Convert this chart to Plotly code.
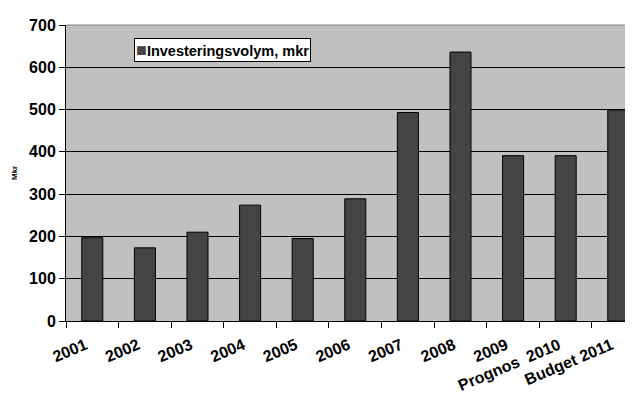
import plotly.graph_objects as go

categories = ["2001", "2002", "2003", "2004", "2005", "2006", "2007", "2008", "2009", "Prognos  2010", "Budget 2011"]
values = [197, 173, 210, 274, 195, 289, 493, 636, 391, 391, 499]
series_name = "Investeringsvolym, mkr"
y_ticks = [0, 100, 200, 300, 400, 500, 600, 700]

FONT = "Liberation Sans, Arial, sans-serif"

# page body has an 8px default margin; size the figure to fit the window without scrollbars
OFF = 8
W, H = 633 - OFF, 403 - 2 * OFF
PL, PT, PR, PB = 66, 25, 633, 321  # plot area in window pixels

fig = go.Figure()
fig.add_trace(go.Bar(
    x=categories, y=values, name=series_name,
    marker=dict(color="#444444", line=dict(color="#000000", width=1)),
    showlegend=False,
))

fig.update_layout(
    width=W, height=H,
    margin=dict(l=PL - OFF, r=W - (PR - OFF), t=PT - OFF, b=H - (PB - OFF)),
    paper_bgcolor="white",
    plot_bgcolor="#C0C0C0",
    bargap=0.6,
    font=dict(family=FONT, color="black"),
    xaxis=dict(
        type="category",
        range=[-0.5, 10.28],
        tickangle=-23,
        ticks="outside", tickson="boundaries", ticklen=6, tickcolor="black",
        showline=True, linecolor="black", linewidth=1,
        showgrid=False,
        tickfont=dict(size=16, weight="bold"),
        ticklabelstandoff=8,
        ticklabelshift=-7,
        automargin=False,
    ),
    yaxis=dict(
        range=[0, 700],
        tickvals=y_ticks,
        ticks="outside", ticklen=6, tickcolor="black",
        showline=True, linecolor="black", linewidth=1,
        showgrid=True, gridcolor="black", gridwidth=1,
        zeroline=False,
        tickfont=dict(size=16, weight="bold"),
        automargin=False,
    ),
)
fig.add_shape(type="line", xref="paper", yref="paper", x0=0, x1=1, y0=1, y1=1,
              line=dict(color="#808080", width=1))

pw, ph = PR - PL, PB - PT
# legend box
fig.add_annotation(
    xref="paper", yref="paper", x=(134 - PL) / pw, y=(PB - 38) / ph,
    xanchor="left", yanchor="top", showarrow=False,
    text="<span style='color:#444444;font-size:18px'>■</span>" + series_name,
    font=dict(size=14.5, family=FONT, weight="bold", color="black"),
    bgcolor="white", bordercolor="black", borderwidth=1, borderpad=1,
)
# y axis title
fig.add_annotation(
    xref="paper", yref="paper", x=(14 - PL) / pw, y=(PB - 173) / ph,
    xanchor="center", yanchor="middle", showarrow=False, textangle=-90,
    text="Mkr", font=dict(size=8, family=FONT, weight="bold", color="black"),
)

fig.write_html("out.html")
